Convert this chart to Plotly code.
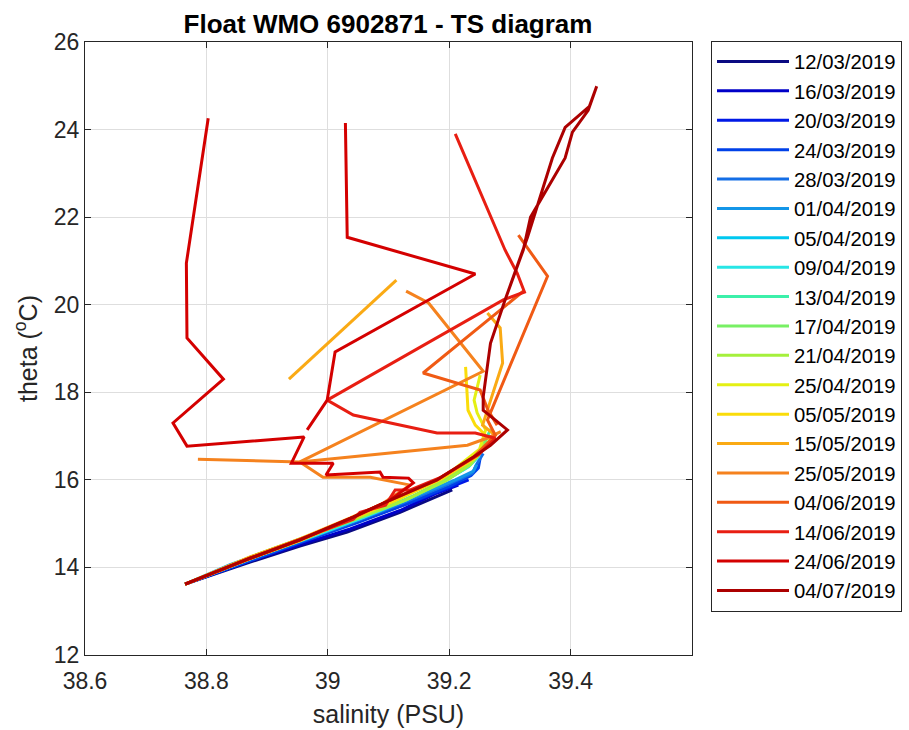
import plotly.graph_objects as go

# ---------------- data (salinity PSU, potential temperature degC) ----------------
dates = ["12/03/2019", "16/03/2019", "20/03/2019", "24/03/2019", "28/03/2019",
         "01/04/2019", "05/04/2019", "09/04/2019", "13/04/2019", "17/04/2019",
         "21/04/2019", "25/04/2019", "05/05/2019", "15/05/2019", "25/05/2019",
         "04/06/2019", "14/06/2019", "24/06/2019", "04/07/2019"]

colors = ["rgb(10,10,130)", "rgb(0,0,200)", "rgb(0,25,230)", "rgb(0,65,232)",
          "rgb(20,110,230)", "rgb(20,150,232)", "rgb(0,200,240)", "rgb(40,230,230)",
          "rgb(60,240,170)", "rgb(120,240,100)", "rgb(165,240,60)", "rgb(228,240,20)",
          "rgb(250,220,10)", "rgb(250,170,20)", "rgb(245,130,30)", "rgb(240,90,20)",
          "rgb(232,30,18)", "rgb(212,0,0)", "rgb(172,0,0)"]

s_1203 = [39.205, 39.119, 39.032, 38.954, 38.872, 38.765]
t_1203 = [15.77, 15.26, 14.81, 14.49, 14.12, 13.62]
s_1603 = [39.215, 39.180, 39.119, 39.037, 38.954, 38.872, 38.765]
t_1603 = [15.88, 15.70, 15.30, 14.88, 14.52, 14.15, 13.62]
s_2003 = [39.232, 39.205, 39.150, 39.080, 39.000, 38.920, 38.840, 38.765]
t_2003 = [16.00, 15.85, 15.55, 15.20, 14.80, 14.42, 14.03, 13.62]
s_2403 = [39.251, 39.248, 39.236, 39.200, 39.130, 39.050, 38.970, 38.880, 38.765]
t_2403 = [16.50, 16.27, 16.10, 15.85, 15.45, 15.03, 14.64, 14.20, 13.62]
s_2803 = [39.256, 39.245, 39.238, 39.195, 39.120, 39.040, 38.960, 38.875, 38.765]
t_2803 = [16.60, 16.35, 16.15, 15.88, 15.45, 15.02, 14.62, 14.20, 13.62]
s_0104 = [39.245, 39.240, 39.210, 39.150, 39.080, 39.000, 38.920, 38.840, 38.765]
t_0104 = [16.35, 16.20, 16.00, 15.65, 15.25, 14.85, 14.45, 14.07, 13.62]
s_0504 = [39.238, 39.225, 39.190, 39.120, 39.050, 38.970, 38.880, 38.765]
t_0504 = [16.40, 16.25, 15.95, 15.50, 15.10, 14.70, 14.25, 13.62]
s_0904 = [39.250, 39.232, 39.195, 39.130, 39.060, 38.980, 38.890, 38.765]
t_0904 = [16.55, 16.30, 16.00, 15.55, 15.15, 14.73, 14.29, 13.62]
s_1304 = [39.268, 39.262, 39.245, 39.205, 39.140, 39.060, 38.975, 38.885, 38.765]
t_1304 = [17.16, 16.95, 16.55, 16.10, 15.62, 15.18, 14.75, 14.30, 13.62]
s_1704 = [39.262, 39.255, 39.240, 39.200, 39.130, 39.050, 38.965, 38.880, 38.765]
t_1704 = [16.95, 16.75, 16.45, 16.05, 15.55, 15.13, 14.70, 14.27, 13.62]
s_2104 = [39.256, 39.250, 39.235, 39.195, 39.125, 39.045, 38.960, 38.875, 38.765]
t_2104 = [16.85, 16.60, 16.35, 15.98, 15.52, 15.10, 14.68, 14.25, 13.62]
s_2504 = [39.251, 39.241, 39.246, 39.260, 39.250, 39.195, 39.120, 39.040, 38.955, 38.872, 38.765]
t_2504 = [18.39, 17.82, 17.53, 17.14, 16.70, 16.10, 15.58, 15.12, 14.62, 14.20, 13.62]
s_0505 = [39.227, 39.230, 39.231, 39.243, 39.268, 39.245, 39.188, 39.110, 39.035, 38.952, 38.870, 38.765]
t_0505 = [18.58, 17.98, 17.59, 17.25, 16.91, 16.52, 16.02, 15.52, 15.08, 14.60, 14.19, 13.62]
s_1505 = [39.113, 38.936, None,
          39.263, 39.284, 39.288, 39.268, 39.255, 39.276, 39.248, 39.185, 39.106, 39.037, 38.954, 38.872, 38.765]
t_1505 = [20.56, 18.30, None,
          19.81, 19.47, 18.67, 17.82, 17.25, 17.02, 16.57, 16.04, 15.56, 15.13, 14.65, 14.24, 13.62]
s_2505 = [39.129, 39.166, 39.256, 38.954, 38.992, 39.070, 39.136, 39.086, 39.037, 38.954, 38.872, 38.765, None,
          38.786, 38.954, 39.230, 39.262, 39.285]
t_2505 = [20.31, 20.04, 18.48, 16.41, 16.06, 16.06, 15.88, 15.42, 15.10, 14.62, 14.20, 13.62, None,
          16.47, 16.41, 16.79, 16.95, 17.10]
s_0406 = [39.314, 39.362, 39.263, 39.276, 39.240, 39.180, 39.103, 39.042, 38.954, 38.872, 38.765, None,
          39.324, 39.157, 39.251, 39.264, 39.279]
t_0406 = [21.59, 20.65, 17.37, 17.02, 16.52, 16.00, 15.54, 15.15, 14.63, 14.21, 13.62, None,
          20.33, 18.44, 18.05, 17.59, 17.25]
s_1406 = [39.210, 39.256, 39.292, 39.312, 39.324, 39.289, 38.999, 39.042, 39.180, 39.243, 39.276,
          39.248, 39.185, 39.136, 39.111, 39.095, 39.053, 39.042, 38.954, 38.872, 38.765]
t_1406 = [23.90, 22.39, 21.25, 20.72, 20.29, 20.11, 17.82, 17.48, 17.07, 17.07, 16.95,
          16.57, 16.05, 15.77, 15.77, 15.42, 15.26, 15.10, 14.63, 14.21, 13.62]
s_2406 = [38.803, 38.775, 38.767, 38.768, 38.828, 38.745, 38.768, 38.961, 38.940, 39.009, 38.997,
          39.086, 39.091, 39.133, 39.141, 39.103, 39.042, 38.954, 38.872, 38.765, None,
          39.029, 39.032, 39.243, 39.086, 39.012, 38.999, 38.966]
t_2406 = [24.26, 21.70, 20.95, 19.24, 18.30, 17.30, 16.77, 16.98, 16.38, 16.38, 16.11,
          16.18, 16.06, 16.04, 15.93, 15.54, 15.15, 14.63, 14.21, 13.62, None,
          24.15, 21.54, 20.70, 19.49, 18.92, 17.82, 17.14]
s_0407 = [39.292, 39.322, 39.334, 39.391, 39.403, 39.429, 39.443, 39.431, 39.391, 39.370, 39.329,
          39.292, 39.268, 39.256, 39.256, 39.296, 39.268, 39.240, 39.180, 39.103, 39.042, 38.954,
          38.872, 38.765]
t_0407 = [20.11, 21.25, 22.00, 23.35, 23.94, 24.44, 24.99, 24.53, 24.05, 23.35, 21.54,
          20.11, 19.12, 17.89, 17.59, 17.14, 16.79, 16.52, 16.00, 15.54, 15.15, 14.63,
          14.21, 13.62]

salinity = [s_1203, s_1603, s_2003, s_2403, s_2803, s_0104, s_0504, s_0904, s_1304, s_1704,
            s_2104, s_2504, s_0505, s_1505, s_2505, s_0406, s_1406, s_2406, s_0407]
theta = [t_1203, t_1603, t_2003, t_2403, t_2803, t_0104, t_0504, t_0904, t_1304, t_1704,
         t_2104, t_2504, t_0505, t_1505, t_2505, t_0406, t_1406, t_2406, t_0407]

x_ticks = [38.6, 38.8, 39.0, 39.2, 39.4]
x_ticktext = ["38.6", "38.8", "39", "39.2", "39.4"]
y_ticks = [12, 14, 16, 18, 20, 22, 24, 26]

# ---------------- figure ----------------
FONT = "Liberation Sans, Arial, Helvetica, sans-serif"
fig = go.Figure()
for d, c, s, t in zip(dates, colors, salinity, theta):
    fig.add_trace(go.Scatter(x=s, y=t, mode="lines", name=d,
                             line=dict(color=c, width=3), connectgaps=False))

axis_common = dict(showline=True, linecolor="#262626", linewidth=1, mirror="ticks",
                   ticks="inside", ticklen=6, tickcolor="#262626",
                   showgrid=True, gridcolor="#dedede", gridwidth=1, zeroline=False,
                   automargin=False,
                   tickfont=dict(family=FONT, size=23, color="#262626"))

fig.update_layout(
    width=909, height=730,
    paper_bgcolor="white", plot_bgcolor="white",
    margin=dict(l=85, r=217, t=42, b=75, autoexpand=False),
    font=dict(family=FONT, color="#262626"),
    title=dict(text="<b>Float WMO 6902871 - TS diagram</b>",
               x=388 / 909, xref="container", xanchor="center",
               y=1 - 24 / 730, yref="container", yanchor="middle",
               font=dict(family=FONT, size=26, color="#000000")),
    xaxis=dict(range=[38.6, 39.6], tickvals=x_ticks, ticktext=x_ticktext,
               ticklabelstandoff=5,
               title=dict(text="salinity (PSU)", font=dict(family=FONT, size=25, color="#262626"),
                          standoff=12),
               **axis_common),
    yaxis=dict(range=[12, 26], tickvals=y_ticks,
               title=dict(text="theta (<sup>o</sup>C)", font=dict(family=FONT, size=25, color="#262626"),
                          standoff=9),
               **axis_common),
    legend=dict(x=(711 - 85) / 607, y=1.002, xanchor="left", yanchor="top",
                bgcolor="white", bordercolor="#262626", borderwidth=1,
                font=dict(family=FONT, size=20.3, color="#000000"),
                itemwidth=72, tracegroupgap=0, maxheight=640),
    showlegend=True,
)

fig.write_html("out.html", config={"displayModeBar": False},
               post_script="document.body.style.margin='0';document.body.style.overflow='hidden';")
